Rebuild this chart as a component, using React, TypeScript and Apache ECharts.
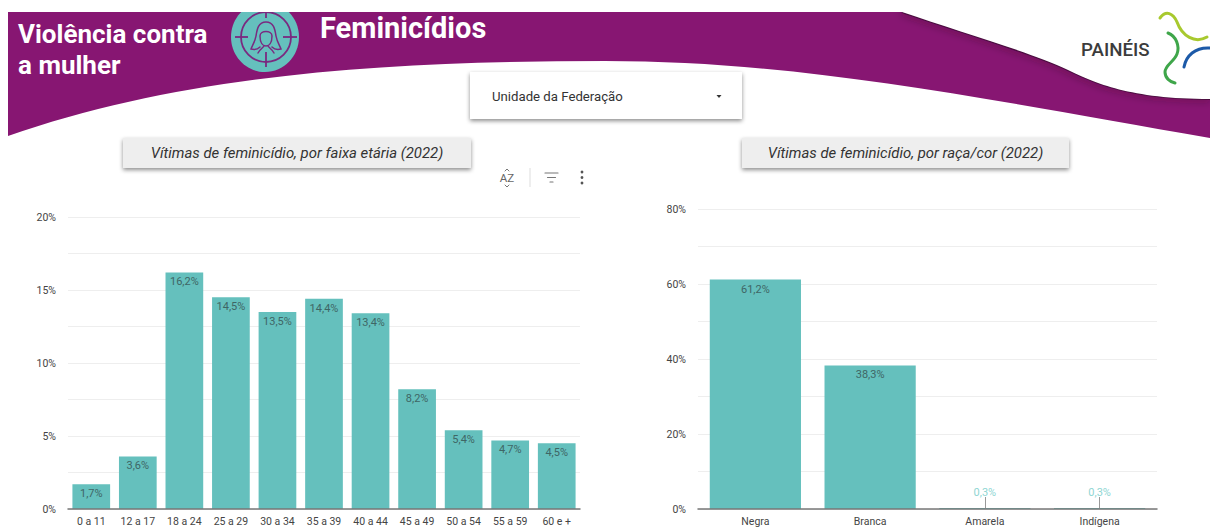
import React, { useEffect, useRef } from "react";
import * as echarts from "echarts";

const ageCategories = ["0 a 11", "12 a 17", "18 a 24", "25 a 29", "30 a 34", "35 a 39", "40 a 44", "45 a 49", "50 a 54", "55 a 59", "60 e +"];
const ageValues = [1.7, 3.6, 16.2, 14.5, 13.5, 14.4, 13.4, 8.2, 5.4, 4.7, 4.5];
const raceCategories = ["Negra", "Branca", "Amarela", "Indígena"];
const raceValues = [61.2, 38.3, 0.3, 0.3];

const TEAL = "#65c0bd";
const PURPLE = "#871672";
const ICON = "#7a2a80";
const FONT = "Roboto";

const pct = (v: number) => v.toFixed(1).replace(".", ",") + "%";

const upperEdge = "C960 32 1030 52 1068 70 C1095 83 1130 99 1210 99";
const bannerD = `M8 12 L902 12 ${upperEdge} L1210 138 C980 98 800 61 605 61 C400 61 190 72 8 136 Z`;
const edgeD = `M902 12 ${upperEdge}`;
const whiteD = `M902 0 L902 12 ${upperEdge} L1210 0 Z`;
const womanD =
  "M266 22 C258 22 257 30 256 36 C255 42 252 46 251 49 C255 50 258 49 260 47 M266 22 C274 22 275 30 276 36 C277 42 280 46 281 49 C277 50 274 49 272 47 M260 36 C260 30 272 30 272 36 C272 43 269 46 266 46 C263 46 260 43 260 36 Z M258 53 C260 49 263 48 264 46 M274 53 C272 49 269 48 268 46";
const limeD = "M1160 18 C1166 10 1173 13 1177 22 C1182 36 1195 44 1207 37";
const greenD = "M1168 33 C1176 36 1180 46 1177 54 C1174 62 1165 65 1165 72 C1165 78 1170 82 1175 83";
const blueD = "M1184 67 C1186 56 1195 47 1210 48";
const filterD = "M545 173 L558 173 M547.5 177.5 L555.5 177.5 M550 182 L553 182";
const sortCaretsD = "M505 171 L507 169 L509 171 M505 185 L507 187 L509 185";

echarts.graphic.registerShape("banner", echarts.graphic.extendPath(bannerD, {}));
echarts.graphic.registerShape("bannerEdge", echarts.graphic.extendPath(edgeD, {}));
echarts.graphic.registerShape("whiteCorner", echarts.graphic.extendPath(whiteD, {}));
echarts.graphic.registerShape("woman", echarts.graphic.extendPath(womanD, {}));
echarts.graphic.registerShape("lime", echarts.graphic.extendPath(limeD, {}));
echarts.graphic.registerShape("greenCurve", echarts.graphic.extendPath(greenD, {}));
echarts.graphic.registerShape("blueCurve", echarts.graphic.extendPath(blueD, {}));
echarts.graphic.registerShape("filterIcon", echarts.graphic.extendPath(filterD, {}));
echarts.graphic.registerShape("sortCarets", echarts.graphic.extendPath(sortCaretsD, {}));

const text = (x: number, y: number, t: string, fontSize: number, fill: string, extra: any = {}) => ({
  type: "text",
  x,
  y,
  silent: true,
  style: { text: t, fontSize, fill, fontFamily: FONT, verticalAlign: "middle", ...extra },
});

const card = (x: number, y: number, width: number, height: number, fill: string) => ({
  type: "rect",
  shape: { x, y, width, height },
  silent: true,
  style: { fill, shadowBlur: 4, shadowOffsetY: 2, shadowColor: "rgba(0,0,0,0.45)" },
});

const line = (x1: number, y1: number, x2: number, y2: number, stroke: string, lineWidth: number) => ({
  type: "line",
  silent: true,
  shape: { x1, y1, x2, y2 },
  style: { stroke, lineWidth },
});

const stroked = (type: string, stroke: string, lineWidth: number) => ({
  type,
  silent: true,
  style: { fill: "none", stroke, lineWidth, lineCap: "round" },
});

const graphics: any[] = [
  { type: "banner", silent: true, style: { fill: PURPLE } },
  {
    type: "bannerEdge",
    silent: true,
    style: { fill: "none", stroke: "#4a0c3e", lineWidth: 2, shadowBlur: 9, shadowColor: "rgba(40,0,30,0.9)" },
  },
  { type: "whiteCorner", silent: true, style: { fill: "#ffffff" } },
  { type: "ellipse", silent: true, shape: { cx: 265, cy: 37, rx: 34, ry: 35 }, style: { fill: TEAL } },
  { type: "ellipse", silent: true, shape: { cx: 266, cy: 37, rx: 25, ry: 25 }, style: { fill: "none", stroke: ICON, lineWidth: 1.8 } },
  line(235, 37, 248, 37, ICON, 1.8),
  line(283, 37, 297, 37, ICON, 1.8),
  line(266, 12, 266, 18, ICON, 1.8),
  line(266, 52, 266, 67, ICON, 1.8),
  stroked("woman", ICON, 1.5),
  { type: "rect", silent: true, shape: { x: 0, y: 0, width: 1210, height: 12 }, style: { fill: "#ffffff" } },
  text(18, 34, "Violência contra", 26, "#ffffff", { fontWeight: 700 }),
  text(18, 65, "a mulher", 26, "#ffffff", { fontWeight: 700 }),
  text(320, 28, "Feminicídios", 29, "#ffffff", { fontWeight: 700 }),
  text(1081, 50, "PAINÉIS", 18.7, "#3c3c3c", { fontWeight: 500 }),
  stroked("lime", "#a8c92e", 3),
  stroked("greenCurve", "#3fa64a", 3),
  stroked("blueCurve", "#1c5aa8", 3),
  card(470, 72, 272, 47, "#ffffff"),
  text(492, 96, "Unidade da Federação", 13.2, "#333333"),
  { type: "polygon", silent: true, shape: { points: [[716.5, 95], [721.5, 95], [719, 98]] }, style: { fill: "#333333" } },
  card(123, 138, 348, 30, "#eeeeee"),
  text(297, 153, "Vítimas de feminicídio, por faixa etária (2022)", 14.9, "#333333", { fontStyle: "italic", align: "center" }),
  card(742, 138, 327, 30, "#eeeeee"),
  text(905.5, 153, "Vítimas de feminicídio, por raça/cor (2022)", 14.9, "#333333", { fontStyle: "italic", align: "center" }),
  text(507, 178, "AZ", 11.5, "#666666", { align: "center" }),
  stroked("sortCarets", "#777777", 1),
  line(530, 168, 530, 187, "#dddddd", 1),
  stroked("filterIcon", "#777777", 1.2),
  { type: "circle", silent: true, shape: { cx: 582, cy: 172, r: 1.4 }, style: { fill: "#555555" } },
  { type: "circle", silent: true, shape: { cx: 582, cy: 177.5, r: 1.4 }, style: { fill: "#555555" } },
  { type: "circle", silent: true, shape: { cx: 582, cy: 183, r: 1.4 }, style: { fill: "#555555" } },
];

const barData = (values: number[], small: number) =>
  values.map((v) =>
    v < small
      ? { value: v, label: { position: "top", distance: 10, color: "#8fd6d3" } }
      : { value: v }
  );

const series = (index: number, values: number[], small: number, gap: string, categories: string[]) => ({
  type: "bar",
  xAxisIndex: index,
  yAxisIndex: index,
  barCategoryGap: gap,
  itemStyle: { color: TEAL },
  data: barData(values, small),
  label: {
    show: true,
    position: "insideTop",
    distance: 4,
    fontFamily: FONT,
    fontSize: 11,
    color: "#3f6665",
    formatter: (p: any) => pct(p.value),
  },
  markLine:
    small > 0
      ? {
          silent: true,
          symbol: "none",
          animation: false,
          label: { show: false },
          lineStyle: { color: "#999999", width: 1, type: "solid" },
          data: values
            .map((v, i) => ({ v, i }))
            .filter((d) => d.v < small)
            .map((d) => [{ coord: [categories[d.i], 0] }, { coord: [categories[d.i], 3.2] }]),
        }
      : undefined,
});

const xAxis = (gridIndex: number, data: string[]) => ({
  type: "category",
  gridIndex,
  data,
  z: 5,
  axisTick: { show: false },
  axisLine: { lineStyle: { color: "#777777", width: 1.5 } },
  axisLabel: { fontFamily: FONT, fontSize: 10.5, color: "#444444", margin: 7, interval: 0 },
});

const yAxis = (gridIndex: number, max: number, interval: number, labelStep: number) => ({
  type: "value",
  gridIndex,
  min: 0,
  max,
  interval,
  axisLine: { show: false },
  axisTick: { show: false },
  splitLine: { lineStyle: { color: "#eeeeee", width: 1 } },
  axisLabel: {
    fontFamily: FONT,
    fontSize: 10.5,
    color: "#444444",
    margin: 12,
    formatter: (v: number) => (v % labelStep === 0 ? v + "%" : ""),
  },
});

export default function App() {
  const ref = useRef<HTMLDivElement>(null);
  useEffect(() => {
    document.body.style.margin = "0";
    const chart = echarts.init(ref.current!, null, { renderer: "svg" });
    chart.setOption({
      animation: false,
      backgroundColor: "#ffffff",
      textStyle: { fontFamily: FONT },
      grid: [
        { left: 68, width: 512, top: 217, height: 292 },
        { left: 698, width: 459, top: 209, height: 300 },
      ],
      xAxis: [xAxis(0, ageCategories), xAxis(1, raceCategories)],
      yAxis: [yAxis(0, 20, 2.5, 5), yAxis(1, 80, 10, 20)],
      series: [
        series(0, ageValues, 0, "19%", ageCategories),
        series(1, raceValues, 1, "20.5%", raceCategories),
      ],
      graphic: { elements: graphics },
    });
    return () => chart.dispose();
  }, []);
  return <div ref={ref} style={{ width: 1210, height: 528 }} />;
}
